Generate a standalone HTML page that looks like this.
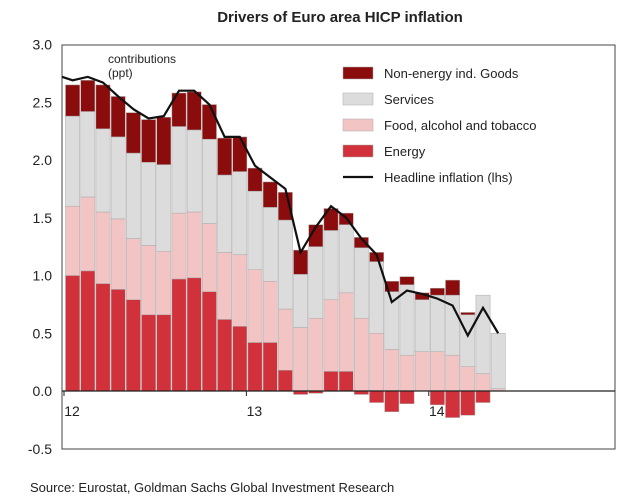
<!DOCTYPE html>
<html><head><meta charset="utf-8"><style>
body{margin:0;background:#fff;width:620px;height:497px;overflow:hidden}
svg{display:block;font-family:"Liberation Sans",sans-serif}
</style></head><body>
<svg id="chart" width="620" height="497">
<text x="340" y="22" text-anchor="middle" font-size="15" font-weight="bold" fill="#222">Drivers of Euro area HICP inflation</text>
<rect x="62" y="45" width="553" height="404" fill="none" stroke="#444" stroke-width="1"/>
<g id="bars"></g>
<g id="axes"></g>
<text x="108" y="63" font-size="12" fill="#222">contributions</text>
<text x="108" y="77" font-size="12" fill="#222">(ppt)</text>
<g id="legend"></g>
<text x="30" y="492" font-size="13" fill="#222">Source: Eurostat, Goldman  Sachs Global Investment Research</text>
</svg>
<script>
const categories=["Jan12","Feb12","Mar12","Apr12","May12","Jun12","Jul12","Aug12","Sep12","Oct12","Nov12","Dec12","Jan13","Feb13","Mar13","Apr13","May13","Jun13","Jul13","Aug13","Sep13","Oct13","Nov13","Dec13","Jan14","Feb14","Mar14","Apr14","May14"];
const energy=[1.0,1.04,0.93,0.88,0.79,0.66,0.66,0.97,0.98,0.86,0.62,0.56,0.42,0.42,0.18,-0.03,-0.02,0.17,0.17,-0.03,-0.1,-0.18,-0.11,0,-0.12,-0.23,-0.21,-0.1,0];
const food=[0.6,0.64,0.62,0.61,0.53,0.6,0.55,0.57,0.57,0.59,0.58,0.62,0.63,0.53,0.53,0.55,0.63,0.62,0.68,0.63,0.5,0.36,0.31,0.34,0.34,0.31,0.21,0.15,0.02];
const services=[0.78,0.74,0.72,0.71,0.74,0.72,0.75,0.75,0.71,0.73,0.67,0.72,0.68,0.64,0.77,0.46,0.62,0.6,0.59,0.61,0.62,0.5,0.61,0.45,0.49,0.52,0.45,0.68,0.48];
const neig=[0.27,0.27,0.38,0.35,0.35,0.37,0.41,0.29,0.33,0.3,0.32,0.3,0.2,0.22,0.24,0.21,0.19,0.19,0.1,0.09,0.08,0.09,0.07,0.06,0.06,0.13,0.02,0,0];
const headline=[2.69,2.72,2.67,2.55,2.44,2.36,2.38,2.6,2.6,2.48,2.2,2.2,1.95,1.85,1.75,1.2,1.42,1.6,1.5,1.32,1.18,0.77,0.87,0.84,0.8,0.74,0.48,0.72,0.5];
const yTicks=["-0.5","0.0","0.5","1.0","1.5","2.0","2.5","3.0"];
const xLabels=[["12",0],["13",12],["14",24]];
const NS="http://www.w3.org/2000/svg";
const y=v=>391-v*115.5;
const bw=15.2, x0=65;
const x=i=>x0+i*bw;
function mk(tag,attrs,parent){const e=document.createElementNS(NS,tag);for(const k in attrs)e.setAttribute(k,attrs[k]);parent.appendChild(e);return e;}
const bars=document.getElementById('bars');
const series=[[energy,"#d0313a","energy"],[food,"#f2c4c4","food"],[services,"#dcdcdc","services"],[neig,"#8a0c0c","neig"]];
categories.forEach((c,i)=>{
  let pos=0,neg=0;
  series.forEach(([arr,col,nm])=>{
    const v=arr[i]; if(!v) return;
    let a,b;
    if(v>=0){a=pos;b=pos+v;pos=b;}else{a=neg+v;b=neg;neg=a;}
    const r=mk('rect',{x:x(i)+0.5,y:y(b),width:bw-1,height:Math.max(0,y(a)-y(b)),fill:col,stroke:"#aaa","stroke-width":0.5},bars);
    
    
  });
});
const ax=document.getElementById('axes');
const zl=mk('line',{x1:62,x2:615,y1:y(0),y2:y(0),stroke:"#222","stroke-width":1.2},ax);


yTicks.forEach(t=>{
  const v=parseFloat(t);
  const tx=mk('text',{x:52,y:y(v)+5,"text-anchor":"end","font-size":14,fill:"#222"},ax);
  tx.textContent=t;
  
  
});
xLabels.forEach(([l,i])=>{
  const tx=mk('text',{x:x(i)+7,y:416,"text-anchor":"middle","font-size":14,fill:"#222"},ax);
  tx.textContent=l;
  
  
  const tk=mk('line',{x1:x(i)-1,x2:x(i)-1,y1:y(0),y2:y(0)+5,stroke:"#222"},ax);
  
  
});
const pts=headline.map((v,i)=>(x(i)+bw/2)+","+y(v)).join(" ");
const hl=mk('polyline',{points:"62,"+y(2.72)+" "+pts,fill:"none",stroke:"#111","stroke-width":2.2},ax);


const lg=document.getElementById('legend');
const items=[["Non-energy ind. Goods","#8a0c0c"],["Services","#dcdcdc"],["Food, alcohol and tobacco","#f2c4c4"],["Energy","#d0313a"],["Headline inflation (lhs)",null]];
items.forEach(([t,c],k)=>{
  const yy=73+k*26;
  if(c){const r=mk('rect',{x:343,y:yy-6,width:30,height:12,fill:c,stroke:"#aaa","stroke-width":0.5},lg);
    
    }
  else{const l=mk('line',{x1:343,x2:373,y1:yy,y2:yy,stroke:"#111","stroke-width":2.2},lg);
    
    }
  const tx=mk('text',{x:384,y:yy+5,"font-size":13,fill:"#222"},lg);
  tx.textContent=t;
  
  
});
</script>
</body></html>
